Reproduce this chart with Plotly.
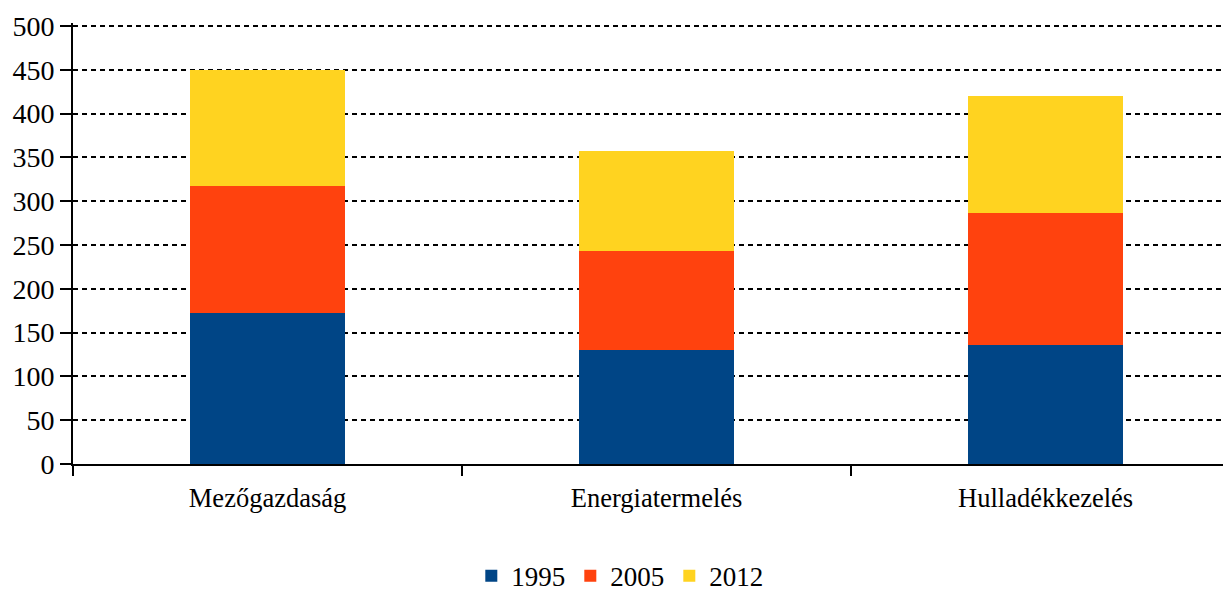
import plotly.graph_objects as go

categories = ["Mezőgazdaság", "Energiatermelés", "Hulladékkezelés"]
series_names = ["1995", "2005", "2012"]
v1995 = [172, 130, 136]
v2005 = [145, 113, 151]
v2012 = [133, 114, 133]
colors = ["#004586", "#FF420E", "#FFD320"]
y_ticks = [0, 50, 100, 150, 200, 250, 300, 350, 400, 450, 500]

fig = go.Figure()
for name, vals, col in zip(series_names, [v1995, v2005, v2012], colors):
    fig.add_trace(go.Bar(x=categories, y=vals, name=name, marker=dict(color=col, line=dict(width=0)),
                         width=0.4))

font = "Liberation Serif, Times New Roman, serif"
fig.update_layout(
    barmode="stack",
    width=1231, height=592,
    margin=dict(l=65, r=0, t=15, b=136),
    plot_bgcolor="white", paper_bgcolor="white",
    font=dict(family=font, size=28, color="black"),
    showlegend=True,
    legend=dict(orientation="h", xref="container", x=0.497, xanchor="center",
                yref="container", y=0.04, yanchor="middle",
                font=dict(size=27), itemwidth=30, traceorder="normal"),
    xaxis=dict(range=[-0.5, 2.497], tickson="boundaries", ticks="outside", ticklen=10,
               tickwidth=2, tickcolor="black", showline=True, linecolor="black", linewidth=2,
               showgrid=False, tickfont=dict(size=26.5), ticklabelstandoff=9, automargin=False),
    yaxis=dict(range=[0, 503.5], tickvals=y_ticks, ticks="outside", ticklen=11, tickwidth=2,
               tickcolor="black", showline=True, linecolor="black", linewidth=2,
               showgrid=True, gridcolor="black", gridwidth=1.8, griddash="5px,4px",
               zeroline=False, tickfont=dict(size=28), automargin=False, ticklabelstandoff=0),
)
fig.write_html("out.html")
